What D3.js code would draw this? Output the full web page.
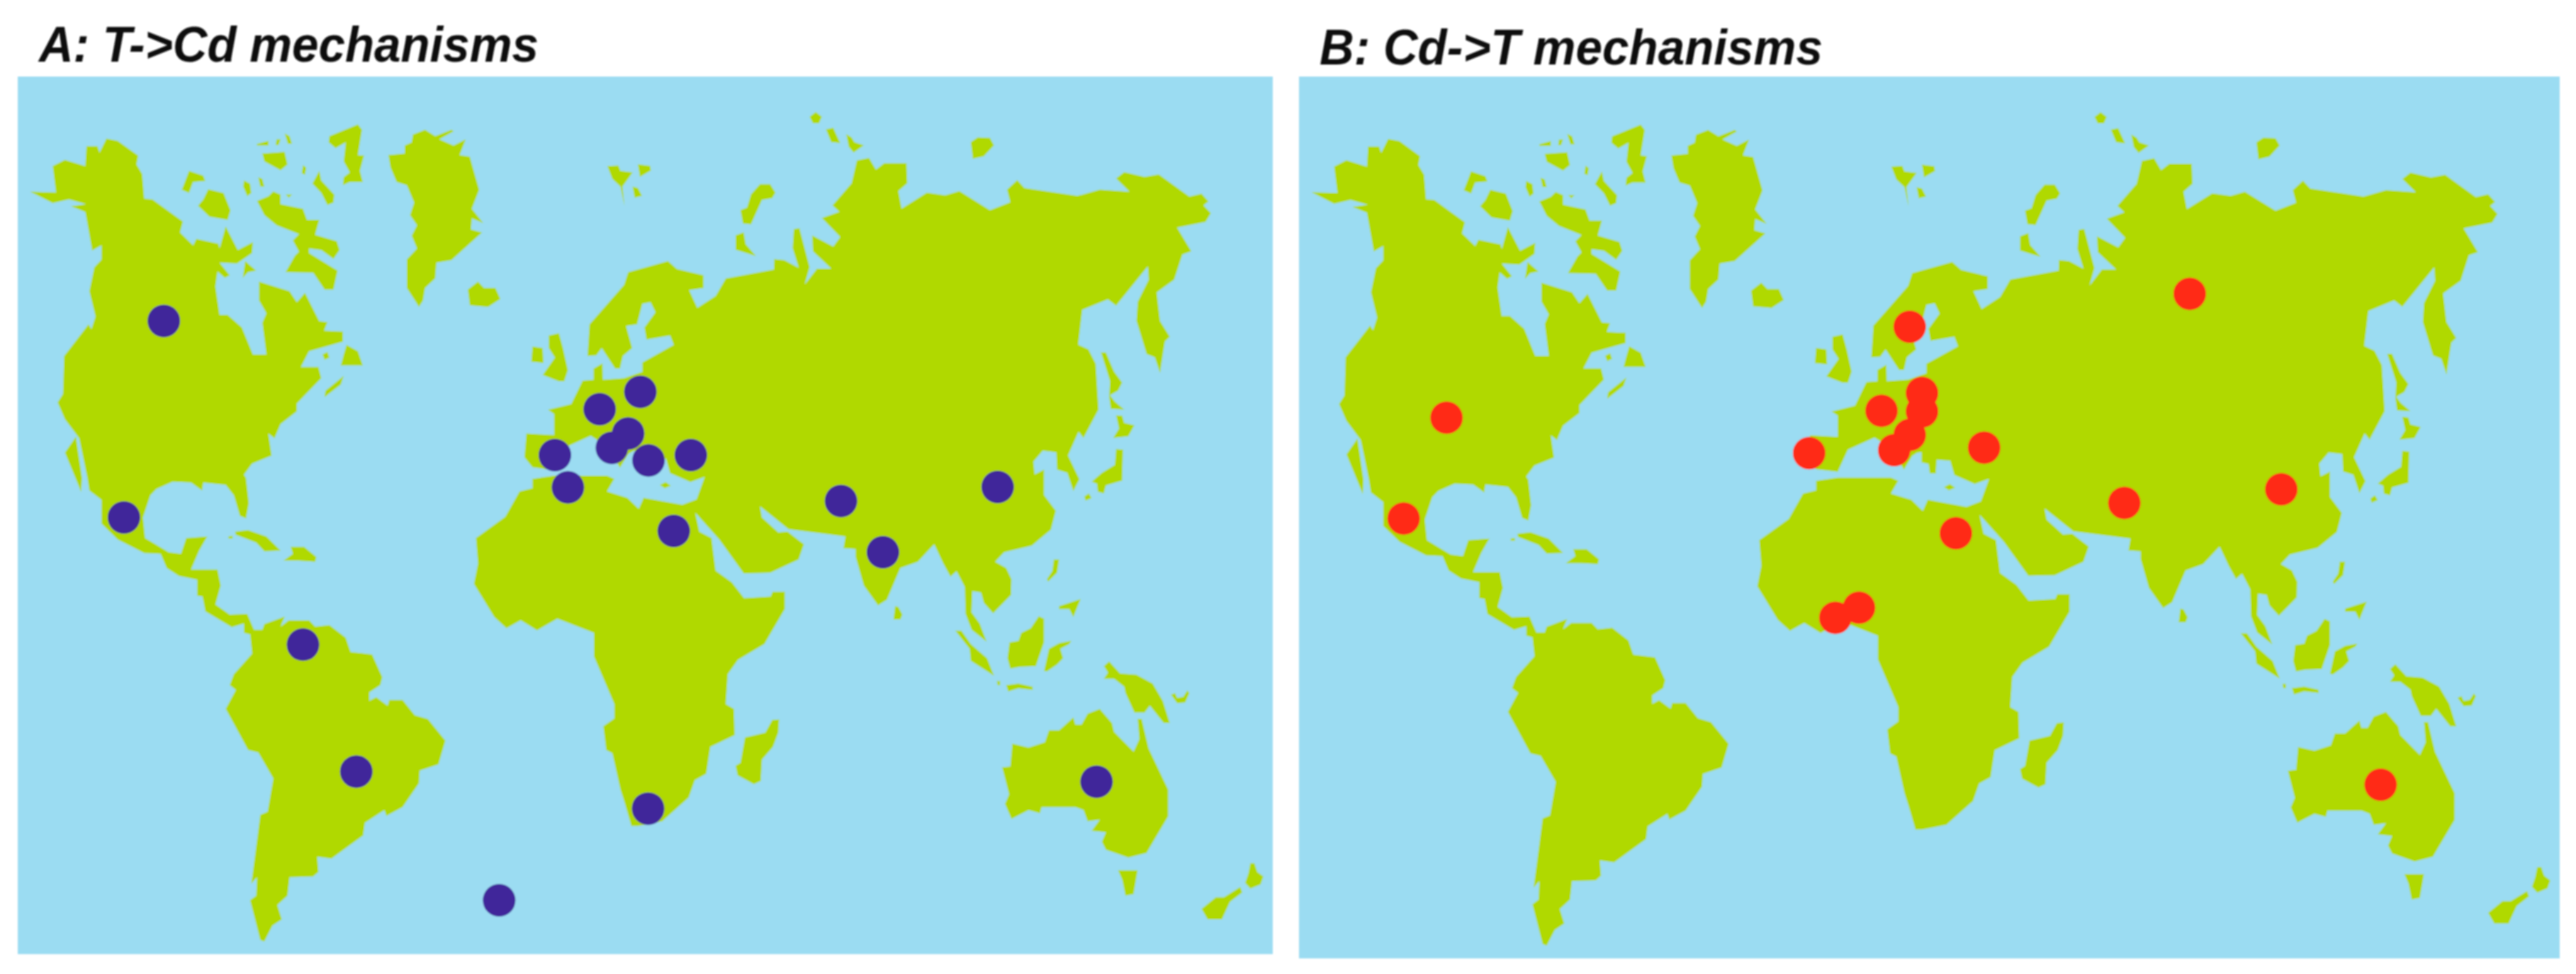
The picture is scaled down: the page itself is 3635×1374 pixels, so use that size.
<!DOCTYPE html>
<html>
<head>
<meta charset="utf-8">
<script src="https://cdn.jsdelivr.net/npm/d3@7"></script>
<style>
  body { margin: 0; background: #fff; }
</style>
</head>
<body>
<div id="chart-area"></div>
<script>
// Map outlines, in map units
const americas = [[75,606],[138,608],[130,525],[160,505],[210,525],[213,462],[240,462],[245,482],[262,438],[290,445],[340,492],[336,520],[350,550],[355,628],[375,630],[450,700],[443,735],[475,775],[483,755],[537,770],[540,785],[555,715],[585,790],[622,765],[620,800],[583,833],[540,830],[565,870],[553,878],[535,858],[530,905],[540,995],[560,995],[595,1035],[622,1120],[655,1120],[645,1020],[655,990],[637,950],[637,890],[712,920],[730,955],[750,925],[785,1015],[805,1018],[797,1045],[843,1048],[843,1080],[760,1110],[740,1160],[783,1160],[790,1195],[730,1275],[730,1300],[690,1340],[675,1385],[660,1370],[668,1440],[620,1465],[600,1500],[605,1510],[612,1590],[605,1638],[590,1630],[575,1565],[555,1532],[500,1525],[497,1550],[470,1525],[425,1522],[385,1545],[370,1565],[352,1635],[357,1700],[415,1745],[445,1750],[458,1700],[510,1695],[490,1740],[470,1800],[535,1800],[543,1850],[530,1910],[565,1942],[608,1940],[625,1990],[645,1990],[650,1972],[700,1948],[690,1980],[710,1960],[760,1960],[775,1980],[810,1975],[850,2015],[862,2060],[915,2068],[940,2140],[935,2165],[908,2188],[908,2215],[925,2203],[953,2230],[957,2212],[990,2212],[1020,2260],[1052,2272],[1095,2340],[1078,2415],[1032,2435],[1030,2475],[990,2550],[950,2578],[945,2560],[897,2600],[893,2640],[815,2713],[780,2707],[783,2755],[770,2770],[712,2772],[707,2830],[682,2860],[693,2905],[670,2925],[650,2975],[640,2970],[615,2845],[630,2830],[632,2772],[618,2792],[640,2575],[658,2565],[672,2460],[635,2378],[610,2370],[555,2240],[580,2180],[565,2165],[575,2130],[620,2065],[615,2005],[600,2000],[600,1970],[570,1982],[505,1932],[498,1885],[485,1882],[485,1832],[440,1820],[410,1795],[395,1750],[355,1748],[290,1705],[250,1655],[250,1580],[220,1550],[215,1510],[195,1385],[160,1325],[142,1272],[155,1245],[158,1125],[218,1025],[225,1040],[235,1000],[220,920],[232,845],[250,820],[250,775],[227,792],[210,670],[175,652],[212,645],[170,630],[130,642]];

const eurasiaAfrica = [[1294,1370],[1362,1375],[1362,1308],[1347,1295],[1404,1277],[1432,1203],[1459,1200],[1459,1165],[1481,1148],[1482,1200],[1534,1195],[1579,1175],[1579,1145],[1656,1090],[1647,1060],[1589,1073],[1584,1035],[1611,987],[1599,955],[1579,960],[1566,1025],[1539,1030],[1554,1100],[1531,1125],[1524,1165],[1512,1165],[1479,1100],[1466,1123],[1444,1125],[1449,1025],[1534,900],[1544,860],[1642,825],[1664,850],[1729,870],[1729,910],[1694,917],[1714,973],[1759,935],[1784,880],[1902,852],[1903,819],[1928,822],[1963,846],[1948,784],[1951,724],[1965,721],[1990,844],[1978,899],[2008,849],[2043,849],[1998,794],[1996,744],[2048,779],[2065,749],[2020,689],[2063,669],[2046,649],[2093,579],[2106,507],[2136,499],[2153,536],[2173,516],[2228,516],[2230,579],[2208,604],[2216,659],[2278,609],[2323,617],[2358,604],[2433,664],[2483,639],[2475,599],[2500,569],[2518,594],[2648,619],[2703,599],[2776,606],[2743,564],[2763,544],[2813,559],[2848,551],[2923,621],[2953,612],[2970,636],[2958,649],[2976,674],[2963,701],[2893,719],[2928,794],[2906,804],[2886,884],[2843,924],[2851,1014],[2875,1064],[2863,1079],[2851,1179],[2838,1129],[2818,1119],[2793,1014],[2796,954],[2823,884],[2821,842],[2743,966],[2723,946],[2660,979],[2650,1089],[2675,1104],[2693,1149],[2700,1294],[2663,1384],[2651,1364],[2625,1439],[2653,1514],[2638,1552],[2623,1494],[2598,1484],[2596,1429],[2563,1424],[2540,1459],[2543,1499],[2566,1484],[2566,1564],[2595,1614],[2583,1674],[2536,1724],[2468,1745],[2446,1775],[2473,1795],[2486,1830],[2485,1880],[2441,1938],[2418,1905],[2411,1872],[2390,1868],[2388,1935],[2408,1970],[2425,2028],[2388,1990],[2373,1940],[2371,1855],[2351,1805],[2336,1822],[2318,1780],[2296,1720],[2256,1775],[2213,1795],[2180,1895],[2158,1913],[2123,1850],[2103,1760],[2103,1735],[2073,1732],[2078,1695],[1938,1672],[1868,1600],[1873,1635],[1913,1682],[1936,1680],[1976,1720],[1963,1768],[1893,1810],[1828,1812],[1768,1705],[1709,1620],[1719,1680],[1749,1700],[1759,1803],[1799,1840],[1829,1890],[1894,1885],[1899,1870],[1929,1870],[1929,1925],[1879,2035],[1814,2085],[1789,2130],[1784,2225],[1804,2240],[1806,2323],[1746,2360],[1736,2445],[1708,2465],[1693,2520],[1628,2595],[1568,2610],[1552,2610],[1535,2535],[1525,2495],[1505,2380],[1490,2370],[1483,2295],[1510,2270],[1510,2225],[1460,2075],[1460,2000],[1370,1955],[1320,1992],[1280,1960],[1245,1985],[1215,1950],[1165,1845],[1175,1780],[1170,1700],[1242,1633],[1277,1553],[1309,1543],[1309,1513],[1362,1503],[1492,1503],[1510,1513],[1492,1553],[1542,1573],[1570,1608],[1582,1573],[1677,1595],[1712,1578],[1732,1507],[1697,1523],[1647,1495],[1637,1450],[1604,1447],[1602,1490],[1587,1490],[1584,1460],[1567,1455],[1567,1423],[1556,1425],[1544,1435],[1524,1478],[1494,1415],[1474,1395],[1452,1377],[1387,1415],[1362,1485],[1309,1477],[1289,1445]];

const greenland = [[955,490],[995,485],[995,460],[1012,450],[1015,425],[1045,410],[1070,430],[1110,410],[1115,415],[1080,440],[1115,460],[1145,440],[1130,490],[1155,495],[1178,600],[1160,660],[1188,705],[1160,690],[1158,725],[1185,735],[1110,822],[1073,830],[1070,880],[1045,910],[1040,950],[1030,970],[1000,910],[1000,820],[1025,785],[1012,745],[1025,712],[1008,680],[1018,640],[1000,585],[975,575],[960,530]];

const australia = [[2463,2425],[2483,2422],[2488,2350],[2528,2362],[2568,2345],[2578,2308],[2603,2308],[2638,2267],[2643,2290],[2658,2290],[2673,2255],[2703,2240],[2733,2285],[2738,2312],[2786,2375],[2800,2335],[2796,2272],[2806,2272],[2823,2365],[2871,2495],[2871,2580],[2818,2695],[2773,2710],[2718,2685],[2708,2660],[2718,2630],[2683,2625],[2703,2590],[2673,2595],[2663,2560],[2643,2550],[2560,2550],[2556,2570],[2528,2560],[2486,2588],[2470,2540],[2480,2510]];

const arcticIslands = [
  [[465,540],[500,555],[505,572],[475,575],[465,610],[447,600]],
  [[512,598],[550,610],[567,665],[560,695],[515,685],[487,650],[500,630]],
  [[600,570],[615,580],[618,610],[608,620],[598,590]],
  [[635,560],[645,565],[650,590],[640,590]],
  [[745,522],[753,530],[750,552],[742,548]],
  [[810,430],[880,393],[890,410],[880,490],[895,492],[885,540],[892,575],[860,575],[843,585],[845,560],[860,545],[845,510],[850,450],[825,468],[808,450]],
  [[632,455],[660,445],[660,460],[632,460]],
  [[680,440],[690,440],[685,458],[678,458]],
  [[700,422],[712,430],[718,455],[708,455]],
  [[645,485],[700,480],[707,520],[690,538],[650,510]],
  [[768,580],[785,540],[790,570],[822,615],[820,640],[805,648],[790,610]],
  [[632,635],[660,620],[672,605],[690,615],[690,645],[745,660],[755,695],[785,695],[775,742],[828,762],[835,790],[820,818],[790,790],[760,785],[760,800],[830,855],[820,915],[798,915],[770,862],[702,860],[725,808],[735,795],[720,760],[735,740],[680,712],[650,680]],
  [[703,615],[718,615],[710,625]],
  [[603,825],[630,855],[610,860],[597,878]],
  [[1493,525],[1520,523],[1525,540],[1555,545],[1530,590],[1535,650],[1525,590],[1505,565]],
  [[1568,519],[1598,524],[1600,539],[1573,559]],
  [[1555,590],[1568,594],[1578,619],[1560,625]],
  [[1990,369],[2005,354],[2020,369],[2013,389],[1998,389]],
  [[2030,409],[2048,404],[2065,452],[2043,449]],
  [[2080,424],[2093,434],[2100,449],[2123,459],[2098,482],[2086,464]],
  [[2386,449],[2403,434],[2433,436],[2443,459],[2418,494],[2391,502]],
  [[1868,582],[1893,582],[1906,609],[1898,626],[1873,632],[1846,709],[1826,706],[1820,664],[1836,656],[1846,614]],
  [[1808,744],[1828,734],[1833,772],[1858,809],[1833,799],[1808,789]]
];

const atlanticIslands = [
  [[793,1120],[805,1112],[810,1130],[798,1137]],
  [[852,1090],[880,1110],[892,1155],[838,1155],[845,1120]],
  [[845,1188],[838,1215],[798,1255],[800,1235]],
  [[1150,915],[1175,890],[1190,910],[1218,910],[1230,945],[1200,970],[1155,965]],
  [[1309,1095],[1334,1100],[1336,1147],[1306,1143]],
  [[1349,1060],[1374,1053],[1384,1100],[1396,1170],[1387,1205],[1374,1205],[1334,1185],[1364,1130],[1349,1100]],
  [[187,1380],[160,1430],[200,1555],[202,1510]],
  [[578,1680],[610,1675],[655,1695],[690,1740],[650,1742],[630,1715],[580,1690]],
  [[715,1728],[748,1728],[778,1760],[775,1775],[735,1772],[697,1772],[720,1750]],
  [[562,1695],[572,1693],[572,1702],[562,1702]],
  [[1622,1533],[1636,1523],[1649,1535],[1634,1543]]
];

const asiaPacificIslands = [
  [[2706,1114],[2718,1114],[2738,1174],[2758,1209],[2748,1234],[2728,1249],[2740,1269],[2763,1294],[2730,1292],[2726,1254],[2728,1204]],
  [[2743,1312],[2758,1314],[2763,1336],[2788,1344],[2773,1379],[2736,1384],[2750,1354]],
  [[2743,1419],[2760,1421],[2758,1519],[2718,1534],[2713,1559],[2698,1554],[2696,1529],[2683,1522],[2708,1494],[2740,1469]],
  [[2665,1569],[2676,1559],[2683,1574],[2668,1582]],
  [[2590,1768],[2603,1768],[2598,1810],[2576,1838],[2573,1830],[2586,1805]],
  [[2200,1915],[2208,1918],[2218,1942],[2213,1958],[2196,1958]],
  [[2603,1915],[2656,1893],[2638,1950],[2628,1925],[2603,1925]],
  [[2348,1993],[2363,1993],[2386,2035],[2426,2080],[2443,2135],[2386,2088],[2383,2050]],
  [[2553,1947],[2566,1955],[2566,2030],[2546,2105],[2506,2107],[2483,2113],[2476,2080],[2481,2030],[2503,2025],[2510,2000],[2533,1985]],
  [[2578,2050],[2603,2032],[2633,2025],[2628,2035],[2606,2050],[2613,2080],[2598,2100],[2573,2122],[2566,2120]],
  [[2473,2165],[2503,2160],[2538,2170],[2538,2180],[2503,2175],[2478,2185]],
  [[2450,2152],[2458,2152],[2458,2165],[2452,2165]],
  [[2713,2105],[2726,2090],[2753,2128],[2793,2132],[2833,2160],[2858,2215],[2875,2285],[2860,2285],[2826,2230],[2813,2252],[2788,2252],[2766,2190],[2763,2170],[2738,2145],[2713,2145],[2723,2125]],
  [[2878,2195],[2888,2190],[2893,2205],[2908,2202],[2918,2182],[2923,2190],[2913,2220],[2893,2222]],
  [[2748,2750],[2796,2750],[2786,2825],[2766,2830],[2758,2780]],
  [[3073,2728],[3083,2728],[3090,2755],[3105,2770],[3098,2795],[3073,2808],[3060,2790],[3068,2760]],
  [[3048,2803],[3053,2820],[3023,2850],[3003,2905],[2968,2905],[2953,2872],[2988,2835],[3008,2835]],
  [[1898,2275],[1915,2273],[1913,2315],[1900,2360],[1873,2400],[1870,2468],[1853,2478],[1813,2450],[1808,2420],[1820,2410],[1831,2330],[1881,2315]]
];

// Sites on each map
const tToCdSites = [[403,1014],[305,1635],[745,2037],[876,2438],[1227,2845],[1574,1238],[1474,1293],[1544,1370],[1504,1415],[1364,1438],[1594,1455],[1698,1438],[1396,1540],[1656,1678],[2067,1583],[2170,1745],[2452,1539],[2695,2470],[1593,2555]];
const cdToTSites = [[405,1315],[300,1632],[1292,1426],[1538,1029],[1568,1237],[1568,1295],[1469,1293],[1538,1369],[1500,1417],[1720,1409],[2223,925],[2063,1583],[1651,1678],[1356,1944],[1414,1912],[2447,1540],[2690,2469]];

const titleA = "A: T->Cd mechanisms";
const titleB = "B: Cd->T mechanisms";

const allLand = [americas, eurasiaAfrica, greenland, australia, ...arcticIslands, ...atlanticIslands, ...asiaPacificIslands];

const width = 3635;
const height = 1374;
const dotRadius = 23;

const svg = d3.select("#chart-area")
    .append("svg")
    .attr("width", width)
    .attr("height", height)
    .style("display", "block");

// the original is a soft, enlarged bitmap
svg.append("defs")
    .append("filter")
    .attr("id", "soft")
    .attr("x", "-2%").attr("y", "-2%")
    .attr("width", "104%").attr("height", "104%")
    .append("feGaussianBlur")
    .attr("stdDeviation", 1);

function drawPanel(opts) {
    const x = d3.scaleLinear().domain([44, 3128]).range([opts.left, opts.right]);
    const y = d3.scaleLinear().domain([242, 3015]).range([opts.top, opts.bottom]);

    const line = d3.line()
        .x(d => x(d[0]))
        .y(d => y(d[1]))
        .curve(d3.curveLinearClosed);

    const g = svg.append("g").attr("filter", "url(#soft)");

    g.append("rect")
        .attr("x", opts.left)
        .attr("y", opts.top)
        .attr("width", opts.right - opts.left)
        .attr("height", opts.bottom - opts.top)
        .attr("fill", "#9bdcf2");

    g.selectAll("path")
        .data(allLand)
        .enter()
        .append("path")
        .attr("d", line)
        .attr("fill", "#b0d900");

    g.selectAll("circle")
        .data(opts.sites)
        .enter()
        .append("circle")
        .attr("cx", d => x(d[0]))
        .attr("cy", d => y(d[1]))
        .attr("r", dotRadius)
        .attr("fill", opts.color);

    g.append("text")
        .attr("x", opts.titleX)
        .attr("y", opts.titleY)
        .attr("font-family", "'Liberation Sans', Arial, sans-serif")
        .attr("font-size", 70)
        .attr("font-weight", "bold")
        .attr("font-style", "italic")
        .attr("fill", "#111")
        .attr("textLength", opts.titleWidth)
        .attr("lengthAdjust", "spacingAndGlyphs")
        .text(opts.title);
}

drawPanel({ left: 25, right: 1796, top: 108, bottom: 1346, sites: tToCdSites, color: "#40279a",
    title: titleA, titleX: 55, titleY: 87, titleWidth: 705 });
drawPanel({ left: 1833, right: 3612, top: 108, bottom: 1352, sites: cdToTSites, color: "#ff2a14",
    title: titleB, titleX: 1862, titleY: 91, titleWidth: 710 });
</script>
</body>
</html>
